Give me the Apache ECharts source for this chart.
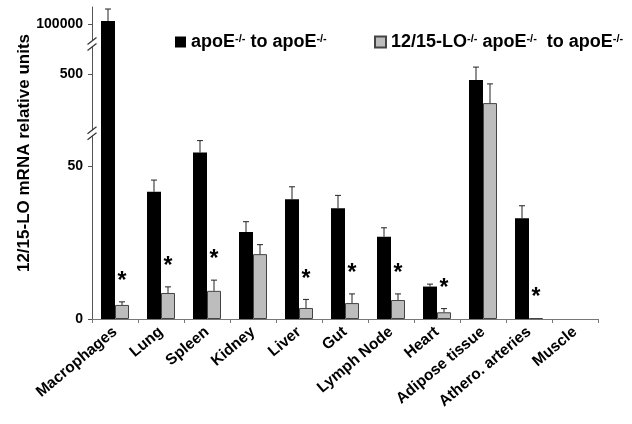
<!DOCTYPE html>
<html>
<head>
<meta charset="utf-8">
<script src="https://cdn.jsdelivr.net/npm/echarts@6/dist/echarts.min.js"></script>
<style>html,body{margin:0;padding:0;background:#fff;}#c{width:632px;height:424px;}</style>
</head>
<body>
<div id="c"></div>
<script>
// ---- data ----
const categories = ['Macrophages','Lung','Spleen','Kidney','Liver','Gut','Lymph Node','Heart','Adipose tissue','Athero. arteries','Muscle'];
const wtValues   = [103000, 41.6, 54.4, 28.4, 39.1, 36.2, 26.9, 10.6, 480, 32.9, 0];
const wtErrors   = [12000, 3.8, 3.9, 3.4, 4.1, 4.2, 2.9, 0.8, 43, 4.1, 0];
const koValues   = [4.6, 8.5, 9.2, 21.2, 3.6, 5.2, 6.2, 2.2, 403, 0.3, 0];
const koErrors   = [1.0, 2.0, 3.5, 3.1, 2.8, 3.0, 2.0, 1.2, 64, 0, 0];
const significant = [1, 1, 1, 0, 1, 1, 1, 1, 0, 1, 0];
const yTickValues = [0, 50, 500, 100000];
const seriesNames = ['wt', 'ko'];

// ---- broken-axis scale (piecewise linear) ----
const SEGMENTS = [
  {v0: 0,     v1: 59,     d0: 0,   k: 3.06},
  {v0: 320,   v1: 587,    d0: 191, k: 0.3},
  {v0: 84000, v1: 117000, d0: 279, k: 0.001}
];
function toDisp(v) {
  for (let s = SEGMENTS.length - 1; s >= 0; s--) {
    const g = SEGMENTS[s];
    if (v >= g.v0) return g.d0 + (Math.min(v, g.v1) - g.v0) * g.k;
    if (s > 0 && v > SEGMENTS[s-1].v1) { const p = SEGMENTS[s-1]; return p.d0 + (p.v1 - p.v0) * p.k; }
  }
  return 0;
}
const AXIS_MAX = SEGMENTS[2].d0 + (SEGMENTS[2].v1 - SEGMENTS[2].v0) * SEGMENTS[2].k;
const breakCenters = [
  (SEGMENTS[0].d0 + (SEGMENTS[0].v1 - SEGMENTS[0].v0) * SEGMENTS[0].k + SEGMENTS[1].d0) / 2,
  (SEGMENTS[1].d0 + (SEGMENTS[1].v1 - SEGMENTS[1].v0) * SEGMENTS[1].k + SEGMENTS[2].d0) / 2
];

const FONT = "'Liberation Sans', Arial, sans-serif";
const BAR_W = 14;
const GRID_LEFT = 92;

const chart = echarts.init(document.getElementById('c'), null, {renderer: 'canvas'});

const errData = categories.map((c, i) => [
  i, toDisp(wtValues[i]), toDisp(wtValues[i] + wtErrors[i]),
  toDisp(koValues[i]), toDisp(koValues[i] + koErrors[i]), significant[i]
]);

const legendText = {
  wt: '{b|apoE}{s|-/-}{b| to apoE}{s|-/-}',
  ko: '{b|12/15-LO}{s|-/-}{b| apoE}{s|-/-}{b|  to apoE}{s|-/-}'
};
const legendTextStyle = {
  color: '#000', fontFamily: FONT, fontWeight: 'bold', fontSize: 18,
  rich: {
    b: {fontFamily: FONT, fontWeight: 'bold', fontSize: 18, color: '#000'},
    s: {fontFamily: FONT, fontWeight: 'bold', fontSize: 11, color: '#000', verticalAlign: 'top'}
  }
};

chart.setOption({
  animation: false,
  backgroundColor: '#fff',
  grid: {left: GRID_LEFT, right: 34, top: 7, bottom: 105, containLabel: false},
  legend: [
    {data: [seriesNames[0]], left: 175, top: 33, itemWidth: 11, itemHeight: 11, icon: 'rect',
     formatter: n => legendText[n], textStyle: legendTextStyle, selectedMode: false, padding: 0},
    {data: [seriesNames[1]], left: 374, top: 33, itemWidth: 11, itemHeight: 11, icon: 'rect',
     formatter: n => legendText[n], textStyle: legendTextStyle, selectedMode: false, padding: 0}
  ],
  xAxis: {
    type: 'category', data: categories,
    axisLine: {lineStyle: {color: '#777', width: 1}},
    axisTick: {show: true, interval: 0, length: 4, lineStyle: {color: '#777'}},
    axisLabel: {interval: 0, rotate: 40, margin: 11, color: '#000', fontFamily: FONT, fontWeight: 'bold', fontSize: 15.5}
  },
  yAxis: {
    type: 'value', min: 0, max: AXIS_MAX,
    name: '12/15-LO mRNA relative units', nameLocation: 'middle', nameGap: 59, nameMoveOverlap: false,
    nameTextStyle: {color: '#000', fontFamily: FONT, fontWeight: 'bold', fontSize: 17, padding: [0, 0, 0, 20]},
    splitLine: {show: false},
    axisLine: {show: true, lineStyle: {color: '#555', width: 1}},
    axisTick: {show: true, length: 4, lineStyle: {color: '#555'}, customValues: yTickValues.map(toDisp)},
    axisLabel: {
      customValues: yTickValues.map(toDisp), margin: 9,
      color: '#000', fontFamily: FONT, fontWeight: 'bold', fontSize: 14,
      formatter: function (val) {
        let best = yTickValues[0], bd = Infinity;
        yTickValues.forEach(t => { const dd = Math.abs(toDisp(t) - val); if (dd < bd) { bd = dd; best = t; } });
        return String(best);
      }
    }
  },
  series: [
    {name: seriesNames[0], type: 'bar', barWidth: BAR_W, barGap: '0%',
     itemStyle: {color: '#000'}, data: wtValues.map(v => v > 0 ? toDisp(v) : '-')},
    {name: seriesNames[1], type: 'bar', barWidth: BAR_W, barGap: '0%',
     itemStyle: {color: '#bdbdbd', borderColor: '#444', borderWidth: 1}, data: koValues.map(v => v > 0 ? toDisp(v) : '-')},
    {name: 'err', type: 'custom', data: errData, encode: {x: 0, y: 2}, z: 5,
     renderItem: function (params, api) {
       const i = api.value(0);
       const cx = api.coord([i, 0])[0];
       const children = [];
       [[-1, 1, 2], [1, 3, 4]].forEach(([side, vi, ei]) => {
         const x = cx + side * BAR_W / 2;
         const yTop = api.coord([i, api.value(vi)])[1];
         const yErr = api.coord([i, api.value(ei)])[1];
         if (yTop - yErr > 0.5) {
           children.push({type: 'line', shape: {x1: x, y1: yTop, x2: x, y2: yErr}, style: {stroke: '#222', lineWidth: 1}});
           children.push({type: 'line', shape: {x1: x - 3, y1: yErr, x2: x + 3, y2: yErr}, style: {stroke: '#222', lineWidth: 1}});
         }
       });
       if (api.value(5)) {
         const x = cx + BAR_W / 2;
         const yErr = api.coord([i, api.value(4)])[1];
         children.push({type: 'text', style: {text: '*', x: x, y: yErr - 20, align: 'center', verticalAlign: 'middle',
           font: 'bold 23px ' + FONT, fill: '#000'}});
       }
       return {type: 'group', children: children};
     }}
  ]
});

// axis break marks on the y axis
const gfx = [];
breakCenters.forEach(d => {
  const c = chart.convertToPixel({yAxisIndex: 0}, d);
  const ax = GRID_LEFT;
  gfx.push({type: 'rect', shape: {x: ax - 3, y: c - 3, width: 6, height: 6}, style: {fill: '#fff'}, z: 10});
  gfx.push({type: 'line', shape: {x1: ax - 4.5, y1: c + 0.5, x2: ax + 4.5, y2: c - 6.5}, style: {stroke: '#333', lineWidth: 1.2}, z: 11});
  gfx.push({type: 'line', shape: {x1: ax - 4.5, y1: c + 6.5, x2: ax + 4.5, y2: c - 0.5}, style: {stroke: '#333', lineWidth: 1.2}, z: 11});
});
chart.setOption({graphic: gfx});
</script>
</body>
</html>
